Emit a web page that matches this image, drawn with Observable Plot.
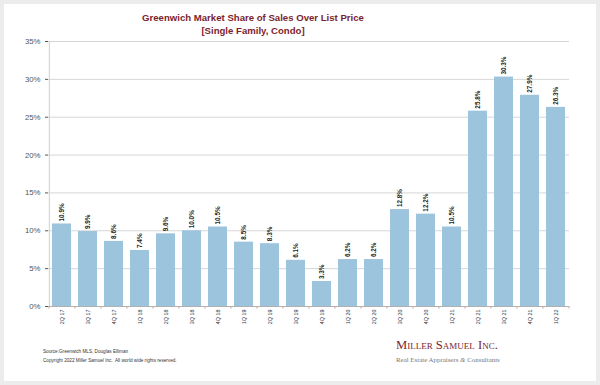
<!DOCTYPE html>
<html>
<head>
<meta charset="utf-8">
<script src="https://cdn.jsdelivr.net/npm/d3@7"></script>
<script src="https://cdn.jsdelivr.net/npm/@observablehq/plot@0.6"></script>
<style>
  html, body { margin: 0; padding: 0; background: #ececec; }
  #wrap { position: relative; width: 600px; height: 385px; background: #ececec; overflow: hidden; font-family: "Liberation Sans", Arial, sans-serif; }
  #panel { position: absolute; left: 4px; top: 4px; width: 592px; height: 377px; background: #fff; }
  #chart { position: absolute; left: 0; top: 0; }
  .title { position: absolute; left: 53px; width: 400px; text-align: center; color: #7b1e2c; font-weight: bold; font-size: 9.6px; line-height: 13px; }
  .foot { position: absolute; left: 43px; font-size: 4.65px; color: #333; }
  .logo1 { position: absolute; left: 396px; top: 338px; font-family: "Liberation Serif", "DejaVu Serif", serif; font-variant: small-caps; font-size: 12.6px; color: #7b1e2c; }
  .logo2 { position: absolute; left: 396px; top: 356px; font-family: "Liberation Serif", "DejaVu Serif", serif; font-size: 6.9px; color: #777; }
</style>
</head>
<body>
<div id="wrap">
  <div id="panel"></div>
  <div id="chart"></div>
  <div class="title" style="top:11px">Greenwich Market Share of Sales Over List Price</div>
  <div class="title" style="top:24px">[Single Family, Condo]</div>
  <div class="foot" style="top:349px">Source:Greenwich MLS, Douglas Elliman</div>
  <div class="foot" style="top:357.5px">Copyright 2022 Miller Samuel Inc.&nbsp; All world wide rights reserved.</div>
  <div class="logo1">Miller Samuel Inc.</div>
  <div class="logo2">Real Estate Appraisers <i>&amp;</i> Consultants</div>
</div>
<script>
const quarters = ["2Q 17","3Q 17","4Q 17","1Q 18","2Q 18","3Q 18","4Q 18","1Q 19","2Q 19","3Q 19","4Q 19","1Q 20","2Q 20","3Q 20","4Q 20","1Q 21","2Q 21","3Q 21","4Q 21","1Q 22"];
const shares = [10.9, 9.9, 8.6, 7.4, 9.6, 10.0, 10.5, 8.5, 8.3, 6.1, 3.3, 6.2, 6.2, 12.8, 12.2, 10.5, 25.8, 30.3, 27.9, 26.3];
const yTicks = [0, 5, 10, 15, 20, 25, 30, 35];

const data = quarters.map((q, i) => ({q, v: shares[i]}));
const halfStep = 13.05;

const chart = Plot.plot({
  width: 600,
  height: 385,
  marginLeft: 48,
  marginRight: 31,
  marginTop: 41,
  marginBottom: 79,
  style: {background: "transparent", fontFamily: "Liberation Sans, Arial, sans-serif", fontSize: "7.8px", color: "#555"},
  x: {domain: quarters, paddingInner: 0.27, paddingOuter: 0.12, label: null, axis: null},
  y: {domain: [0, 35], label: null, ticks: yTicks, tickFormat: d => d + "%", tickSize: 3, tickPadding: 5},
  marks: [
    Plot.ruleY(yTicks.filter(d => d > 0), {stroke: "#d6d6d6", strokeWidth: 1}),
    Plot.barY(data, {x: "q", y: "v", fill: "#9dc4dd"}),
    Plot.ruleY([0], {stroke: "#b0b0b0", strokeWidth: 1}),
    Plot.ruleX([0], {x: () => quarters[0], dx: -12.65, y1: 0, y2: 35, stroke: "#cfcfcf"}),
    Plot.ruleX(quarters, {x: d => d, dx: -halfStep, y1: 0, y2: -0.35, stroke: "#c8a8a8"}),
    Plot.ruleX([quarters[quarters.length - 1]], {x: d => d, dx: halfStep, y1: 0, y2: -0.35, stroke: "#c8a8a8"}),
    Plot.text(data, {
      x: "q", y: "v", text: d => d.v.toFixed(1) + "%",
      rotate: -90, textAnchor: "start", dy: -2.5,
      fontSize: 6.4, fontWeight: "bold", fill: "#222"
    }),
    Plot.text(data, {
      x: "q", y: 0, text: "q", rotate: -90, textAnchor: "end", dy: 3,
      fontSize: 5.4, fill: "#333"
    })
  ]
});
document.getElementById("chart").appendChild(chart);
</script>
</body>
</html>
